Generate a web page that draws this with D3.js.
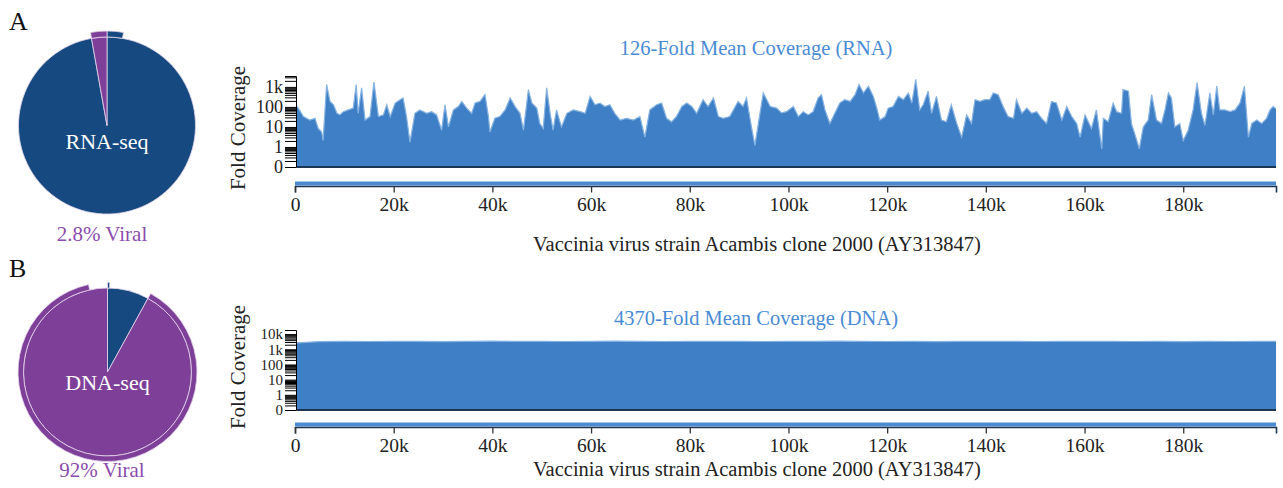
<!DOCTYPE html>
<html><head><meta charset="utf-8">
<script src="https://cdn.jsdelivr.net/npm/d3@7"></script>
<style>body{margin:0;background:#fff}svg{display:block}</style>
</head><body>
<svg id="c" width="1283" height="488"></svg>
<script>
// ---------------- DATA ----------------
const genomeLengthKb = 198.8;
const xTickValuesKb = [0, 20, 40, 60, 80, 100, 120, 140, 160, 180];
const yTicksRna = [0.1, 1, 10, 100, 1000];          // 0.1 is drawn as "0"
const yTicksDna = [0.1, 1, 10, 100, 1000, 10000];
const titles = ["126-Fold Mean Coverage (RNA)", "4370-Fold Mean Coverage (DNA)"];
const genomeLabel = "Vaccinia virus strain Acambis clone 2000 (AY313847)";
const panelLetters = ["A", "B"];
const pieLabels = ["RNA-seq", "DNA-seq"];
const viralLabels = ["2.8% Viral", "92% Viral"];
const pieCategories = ["Host", "Viral"];
const pieRnaValues = [97.2, 2.8];
const pieDnaValues = [8, 92];
const ringRnaValues = [2.8, 94.4, 2.8];
const ringRnaCats = ["Host", null, "Viral"];
const ringDnaValues = [0.4, 7.6, 88.6, 3.4];
const ringDnaCats = ["Host", null, "Viral", null];

// RNA coverage profile: [position kb, fold coverage]
const rnaProfile = [
[0,100],[0.5,100],[1.7,33],[3.0,22],[4.05,27],[4.7,8.4],[5.4,5.6],[5.7,2.1],[6.4,1320],[7.1,188],
[7.8,128],[8.5,48],[9.1,40],[9.8,58],[10.8,71],[11.8,87],[12.4,1320],[12.8,48],[13.5,900],[14.2,22],
[15.2,33],[16.0,1730],[16.9,33],[17.9,40],[18.6,128],[19.3,33],[20.3,156],[21.3,229],[21.9,280],[22.6,33],
[23.3,1.75],[24.3,48],[25.3,71],[26.7,48],[27.7,58],[28.7,40],[29.7,6.9],[30.4,128],[31.1,10],[32.1,71],
[33.1,105],[33.8,188],[34.8,87],[35.8,48],[36.5,156],[37.5,188],[38.5,411],[39.2,33],[39.5,5.6],[40.5,27],
[41.5,33],[42.6,71],[43.6,280],[44.6,105],[45.6,48],[46.3,6.9],[47.3,738],[48.0,156],[49.0,87],[49.6,15],
[50.3,8.4],[51.0,900],[51.7,48],[52.3,6.9],[53.0,71],[54.0,10],[55.1,48],[56.4,71],[57.8,58],[58.8,48],
[59.8,336],[60.8,128],[61.8,156],[62.8,105],[63.8,128],[64.8,48],[65.9,22],[67.2,27],[68.6,22],[69.9,33],
[70.9,3.1],[71.9,71],[73.3,128],[74.3,156],[75.3,27],[76.3,18],[77.3,33],[78.4,105],[79.4,156],[80.4,105],
[81.4,48],[82.7,229],[83.7,105],[84.8,280],[85.8,33],[86.8,27],[88.1,33],[89.8,188],[90.8,105],[91.5,280],
[92.5,10],[93.2,1.2],[93.9,15],[94.9,500],[96.3,105],[97.6,87],[98.6,50],[99.6,58],[101.0,105],[102.0,33],
[103.0,58],[104.0,40],[105.0,58],[106.0,280],[106.7,411],[107.4,71],[108.4,15],[109.4,48],[110.4,156],[111.4,229],
[112.5,188],[113.5,411],[114.3,1320],[115.2,500],[116.2,1090],[117.2,336],[117.9,87],[118.5,22],[119.6,33],[120.2,87],
[121.2,105],[122.3,336],[123.3,229],[124.3,500],[125.0,156],[125.8,2400],[126.6,71],[127.3,128],[128.3,610],[129.0,48],
[130.0,336],[131.0,22],[132.0,18],[133.0,128],[134.1,15],[135.1,3.1],[136.1,40],[137.1,15],[137.8,229],[138.8,188],
[139.8,229],[140.8,229],[141.5,500],[142.5,411],[143.5,105],[144.5,33],[145.6,27],[146.2,229],[147.3,48],[148.3,87],
[149.3,48],[150.3,58],[151.3,27],[152.3,15],[153.3,188],[154.3,156],[155.4,22],[156.4,105],[157.4,33],[158.4,15],
[159.1,3.1],[160.1,40],[161.4,8.4],[162.4,71],[163.5,0.8],[163.8,27],[164.8,18],[165.8,156],[166.5,58],[167.5,48],
[167.8,738],[168.9,610],[169.5,15],[170.6,2.1],[171.1,0.8],[171.9,10],[172.9,22],[173.6,411],[174.6,22],[175.6,15],
[176.3,71],[177.0,500],[177.6,280],[178.3,10],[179.3,15],[180.0,2.1],[181.0,6.9],[182.0,71],[182.8,1620],[183.7,48],
[184.4,12],[185.4,500],[186.1,40],[186.8,1090],[187.4,71],[188.4,71],[189.5,58],[190.5,71],[191.5,156],[192.4,1090],
[193.2,3.1],[193.9,15],[194.9,22],[195.9,15],[196.9,27],[197.6,71],[198.2,105],[198.8,80]
];

// DNA coverage profile: [position kb, fold coverage]
const dnaProfile = [
[0,2600],[5,3200],[10,3300],[15,3250],[20,3350],[25,3300],[30,3200],[35,3300],[40,3400],[45,3350],
[50,3300],[55,3250],[60,3350],[65,3400],[70,3300],[75,3250],[80,3300],[85,3350],[90,3300],[95,3250],
[100,3300],[105,3350],[110,3400],[115,3300],[120,3250],[125,3300],[130,3200],[135,3300],[140,3350],[145,3300],
[150,3250],[155,3300],[160,3350],[165,3300],[170,3250],[175,3300],[180,3200],[185,3300],[190,3250],[195,3300],
[198.8,3300]
];

// ---------------- STYLE ----------------
const NAVY = "#15497f", PURPLE = "#7e3f99", AREA = "#3f7fc6", BAR = "#4b8bd1",
      DARK = "#1d3553", TITLE = "#4a8bd4", VIRAL_TXT = "#8b4dad", SEP = "#e4d6ec";
const SERIF = "'Liberation Serif','DejaVu Serif',serif";
const catColor = c => c === "Host" ? NAVY : PURPLE;

const svg = d3.select("#c");
const x = d3.scaleLinear().domain([0, genomeLengthKb * 1000]).range([295, 1276]);

const panels = [
  {profile: rnaProfile, ticks: yTicksRna, yMax: 3500, top: 76, base: 167, barY: 181.5, tickFont: 18,
   title: titles[0], titleY: 55, labelY: 251, yLabelY: 128, letter: panelLetters[0], letterY: 30,
   pieVals: pieRnaValues, ringVals: ringRnaValues, ringCats: ringRnaCats,
   cx: 107, cy: 125.5, r: 88.5, ringW: 6, pieText: pieLabels[0], pieTextY: 149,
   viral: viralLabels[0], viralX: 102, viralY: 240.5},
  {profile: dnaProfile, ticks: yTicksDna, yMax: 18600, top: 330, base: 410, barY: 422.5, tickFont: 15,
   title: titles[1], titleY: 325, labelY: 476, yLabelY: 367, letter: panelLetters[1], letterY: 277,
   pieVals: pieDnaValues, ringVals: ringDnaValues, ringCats: ringDnaCats,
   cx: 107.5, cy: 372, r: 84, ringW: 5.5, pieText: pieLabels[1], pieTextY: 390,
   viral: viralLabels[1], viralX: 102, viralY: 476.5}
];

const fmt = v => v < 1 ? "0" : (v >= 1000 ? (v / 1000) + "k" : String(v));

panels.forEach((p, i) => {
  const y = d3.scaleLog().domain([0.1, p.yMax]).range([p.base, p.top]);
  const g = svg.append("g");

  // clip
  const clipId = "clip" + i;
  svg.append("clipPath").attr("id", clipId).append("rect")
    .attr("x", 297).attr("y", p.top).attr("width", 1276 - 297).attr("height", p.base - p.top);

  // area
  const area = d3.area()
    .x(d => x(d[0] * 1000))
    .y0(p.base)
    .y1(d => y(Math.max(d[1], 0.1)));
  const line = d3.line().x(d => x(d[0] * 1000)).y(d => y(Math.max(d[1], 0.1)));
  g.append("path").datum(p.profile).attr("clip-path", `url(#${clipId})`)
    .attr("d", area).attr("fill", AREA);
  g.append("path").datum(p.profile).attr("clip-path", `url(#${clipId})`)
    .attr("d", line).attr("fill", "none").attr("stroke", "#86b3e2").attr("stroke-width", 1.2);

  // baseline
  g.append("line").attr("x1", 297).attr("x2", 1276).attr("y1", p.base).attr("y2", p.base)
    .attr("stroke", DARK).attr("stroke-width", 2);

  // y axis (log with minor ticks)
  const yAxis = d3.axisLeft(y).tickValues(y.ticks()).tickSize(11).tickPadding(2)
    .tickFormat(v => p.ticks.includes(v) ? fmt(v) : "");
  const ya = g.append("g").attr("transform", "translate(296,0)").call(yAxis);
  ya.selectAll("line").attr("stroke", "#000").attr("stroke-width", 1);
  ya.select(".domain").attr("stroke", "#000").attr("stroke-width", 1);
  ya.selectAll("text").attr("font-family", SERIF).attr("font-size", p.tickFont).attr("fill", "#222");

  // genome bar + x axis
  g.append("rect").attr("x", x(0)).attr("y", p.barY)
    .attr("width", x(genomeLengthKb * 1000) - x(0)).attr("height", 4).attr("fill", BAR);
  const xAxis = d3.axisBottom(x).tickValues(xTickValuesKb.map(k => k * 1000))
    .tickFormat(v => v === 0 ? "0" : (v / 1000) + "k").tickSize(6.5).tickPadding(4.5);
  const xa = g.append("g").attr("transform", `translate(0,${p.barY + 4.5})`).call(xAxis);
  xa.select(".domain").attr("stroke", DARK).attr("stroke-width", 1.6);
  xa.selectAll("line").attr("stroke", "#333").attr("stroke-width", 1.3);
  xa.selectAll("text").attr("font-family", SERIF).attr("font-size", 19.5).attr("fill", "#222");

  // titles & labels
  g.append("text").attr("x", 756).attr("y", p.titleY).attr("text-anchor", "middle")
    .attr("font-family", SERIF).attr("font-size", 20.5).attr("fill", TITLE).text(p.title);
  g.append("text").attr("x", 757).attr("y", p.labelY).attr("text-anchor", "middle")
    .attr("font-family", SERIF).attr("font-size", 20.5).attr("fill", "#222").text(genomeLabel);
  g.append("text").attr("transform", `translate(245,${p.yLabelY}) rotate(-90)`)
    .attr("text-anchor", "middle").attr("font-family", SERIF).attr("font-size", 21)
    .attr("fill", "#222").text("Fold Coverage");
  g.append("text").attr("x", 9).attr("y", p.letterY).attr("font-family", SERIF)
    .attr("font-size", 26).attr("fill", "#111").text(p.letter);

  // pie
  const pg = svg.append("g").attr("transform", `translate(${p.cx},${p.cy})`);
  const pie = d3.pie().sort(null).value(d => d);
  const arc = d3.arc().innerRadius(0).outerRadius(p.r);
  pg.selectAll("path.slice").data(pie(p.pieVals)).join("path").attr("class", "slice")
    .attr("d", arc).attr("fill", (d, j) => catColor(pieCategories[j]))
    .attr("stroke", SEP).attr("stroke-width", 0.8);
  const ringArc = d3.arc().innerRadius(p.r).outerRadius(p.r + p.ringW);
  pg.selectAll("path.ring").data(pie(p.ringVals).map((d, j) => ({...d, cat: p.ringCats[j]}))
      .filter(d => d.cat)).join("path").attr("class", "ring")
    .attr("d", ringArc).attr("fill", d => catColor(d.cat))
    .attr("stroke", SEP).attr("stroke-width", 0.8);
  pg.append("text").attr("x", 0).attr("y", p.pieTextY - p.cy).attr("text-anchor", "middle")
    .attr("font-family", SERIF).attr("font-size", 22).attr("fill", "#fff").text(p.pieText);
  svg.append("text").attr("x", p.viralX).attr("y", p.viralY).attr("text-anchor", "middle")
    .attr("font-family", SERIF).attr("font-size", 21).attr("fill", VIRAL_TXT).text(p.viral);
});
</script>
</body></html>
